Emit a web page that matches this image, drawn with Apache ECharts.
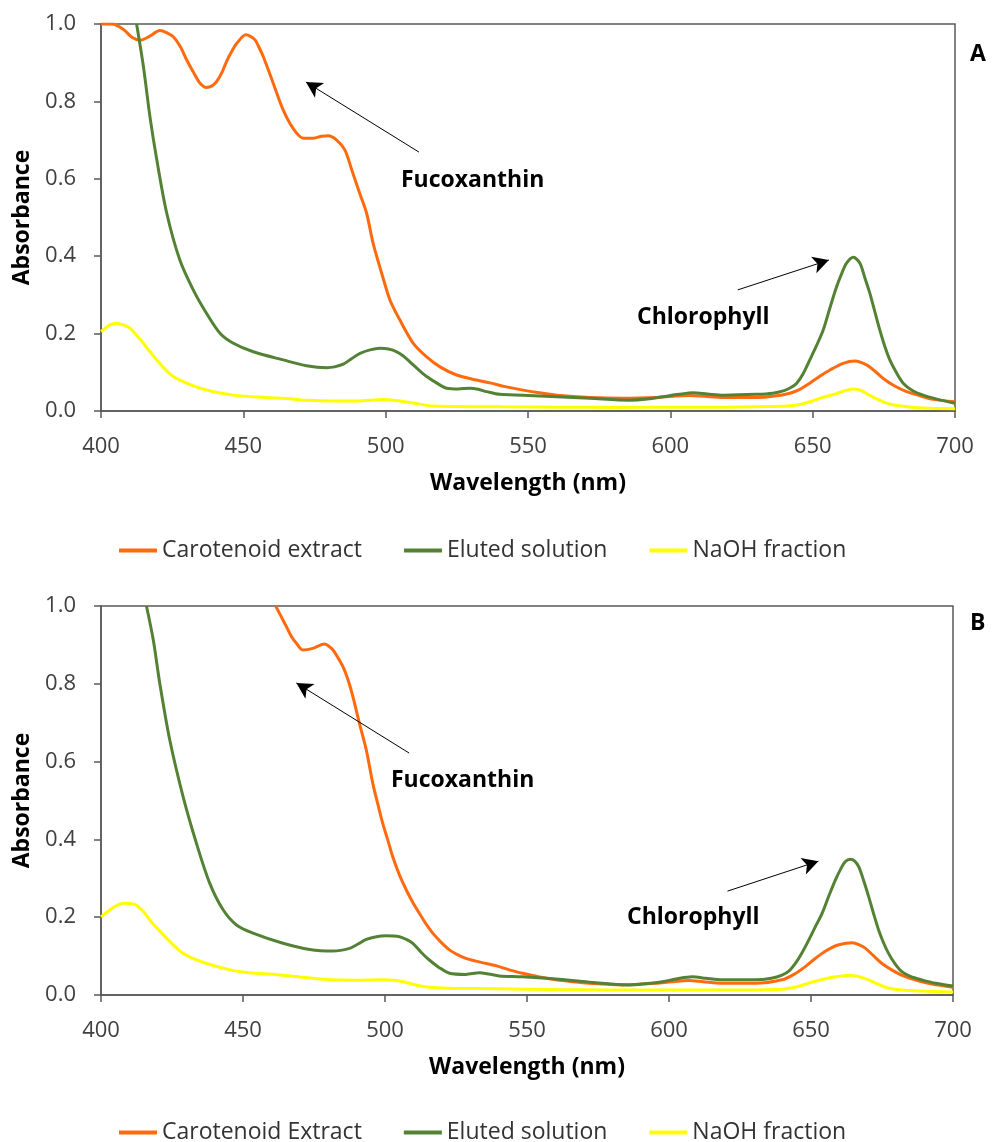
<!DOCTYPE html>
<html><head><meta charset="utf-8">
<script src="https://cdn.jsdelivr.net/npm/echarts@6/dist/echarts.min.js"></script>
<style>html,body{margin:0;padding:0;background:#fff}#c{width:992px;height:1142px}</style>
</head><body><div id="c"></div>
<script>
// ---------- Panel A ----------
const carA_wl = [400,404,408,411,413.7,417,420.7,423,425.4,428,430.1,432.5,434.8,437.1,439,440.6,442.5,444.1,446,447.7,450.9,452.5,454.1,455.5,457,460.5,464,467.5,471.1,474.6,477.5,479.8,482.8,485.7,488.1,490.9,493.3,495.6,498.6,501.5,505,509.7,514.4,519.1,524.9,531.9,537,542,548.3,554,560,571.7,583.5,595.2,606.9,612,618.6,630.3,636,642,645.5,649,652.5,656.1,660.7,664.8,668.9,672,674.8,678.5,683,687.5,692.3,700];
const carA_abs = [1.0,1.0,0.985,0.965,0.958,0.968,0.983,0.978,0.967,0.94,0.907,0.875,0.847,0.836,0.84,0.851,0.875,0.903,0.93,0.95,0.972,0.968,0.959,0.94,0.916,0.847,0.778,0.73,0.705,0.705,0.71,0.711,0.7,0.674,0.623,0.562,0.511,0.433,0.356,0.287,0.235,0.175,0.14,0.114,0.093,0.08,0.072,0.063,0.054,0.047,0.041,0.035,0.033,0.035,0.04,0.038,0.035,0.035,0.038,0.046,0.056,0.072,0.09,0.106,0.123,0.129,0.119,0.102,0.084,0.066,0.05,0.04,0.03,0.024];

const eluA_wl = [412.5,414.9,417.2,419.6,423.1,427.7,432.4,437.1,441.8,446.5,453.5,464,472.2,479.3,482,485.1,488,491,494.5,498,501,503.9,506.2,508.5,511.5,514.4,518,521.4,525.5,529.6,532.5,535.5,540.1,548.3,560,571.7,585.8,592,597.5,603,608,613,618.6,630.3,636,639.7,642.2,644.4,646.7,649,651.3,653.7,656,658.4,660.3,661.9,664.3,666.6,668.3,670.1,671.9,673.6,675.3,677.1,679.5,681.8,685,688.8,694,700];
const eluA_abs = [1.0,0.89,0.76,0.649,0.511,0.39,0.313,0.252,0.201,0.175,0.153,0.132,0.117,0.112,0.114,0.121,0.135,0.149,0.158,0.162,0.16,0.153,0.142,0.127,0.107,0.089,0.072,0.059,0.057,0.059,0.056,0.05,0.043,0.041,0.037,0.033,0.028,0.031,0.037,0.043,0.047,0.044,0.041,0.043,0.046,0.052,0.06,0.072,0.097,0.132,0.168,0.209,0.265,0.321,0.357,0.382,0.397,0.382,0.345,0.304,0.255,0.209,0.168,0.132,0.098,0.072,0.053,0.041,0.03,0.02];

const naohA_wl = [400,403,405.5,408,410.2,412.5,414.9,417.2,419.6,422.5,425.4,430,434.8,440,446.5,455,464,472,481.6,490,499.2,505,510,516.7,540,560,580,600,620,640,645,649,653,658.4,661.5,664.3,667,670.1,673.5,677,683,689,700];
const naohA_abs = [0.205,0.222,0.227,0.222,0.214,0.196,0.175,0.153,0.132,0.108,0.089,0.072,0.059,0.049,0.041,0.036,0.033,0.028,0.026,0.026,0.03,0.026,0.02,0.013,0.011,0.01,0.009,0.01,0.01,0.012,0.016,0.024,0.034,0.045,0.053,0.057,0.053,0.04,0.028,0.018,0.011,0.008,0.006];

// ---------- Panel B ----------
const carB_wl = [461.5,463.5,465.3,467,468.8,471.1,474.6,478.7,480,481.7,483.5,485.2,487,488.7,491,493.4,495.7,497.5,499.2,501,502.7,505,507.5,509.8,512.1,514.5,516.8,519.7,522.7,525.5,528.5,532,535.6,540.2,544,548.4,554,560.2,566,571.9,583.6,595.3,601,607,612,618.7,630.5,639.8,644,648,650.8,653.9,656.8,659.8,664.5,667,669.2,672,675,679,683.2,688,692.6,700];
const carB_abs = [1.0,0.972,0.947,0.922,0.904,0.887,0.891,0.902,0.898,0.887,0.866,0.844,0.81,0.767,0.698,0.63,0.544,0.49,0.441,0.398,0.356,0.31,0.27,0.238,0.21,0.182,0.159,0.136,0.116,0.104,0.094,0.087,0.081,0.073,0.064,0.056,0.047,0.039,0.034,0.03,0.026,0.03,0.034,0.037,0.034,0.03,0.03,0.039,0.053,0.073,0.09,0.107,0.12,0.129,0.134,0.129,0.12,0.101,0.081,0.062,0.047,0.036,0.028,0.02];

const eluB_wl = [416,418.4,420.7,424.2,428.9,433.6,438.3,443,447.7,453.5,464.1,473.5,481.7,487.5,490.5,493.4,497,500.4,505.1,507.5,509.8,512.7,515.6,519,522.7,528.5,533.2,536.5,540.2,548.4,560.2,571.9,585.9,591.5,597.6,603,608.2,613,618.7,630.5,636,639.8,642.3,644.5,646.8,649.2,651.5,653.9,656.3,658.6,660.4,662.1,663.9,665.3,666.8,668.5,670.3,672,673.8,675.5,677.3,679.6,682,685,689,694,700];
const eluB_abs = [1.0,0.913,0.801,0.656,0.51,0.39,0.287,0.219,0.18,0.159,0.133,0.117,0.113,0.12,0.131,0.143,0.15,0.152,0.15,0.143,0.133,0.11,0.09,0.071,0.056,0.053,0.057,0.054,0.049,0.047,0.041,0.033,0.026,0.029,0.034,0.042,0.047,0.043,0.039,0.039,0.043,0.051,0.062,0.081,0.108,0.141,0.175,0.21,0.255,0.296,0.323,0.343,0.349,0.345,0.33,0.295,0.253,0.21,0.167,0.135,0.107,0.08,0.06,0.048,0.039,0.03,0.023];

const naohB_wl = [400,403,405.5,408.4,410.5,412.5,415,417.2,420,423.1,426,428.9,433,437.2,443,448.9,455,464.1,472,481.7,490,499.2,504,508.6,512.5,516.8,525,540.2,560,580,600,620,640,645,649,654,658.6,663.9,667,670.3,673.5,677,683,689,700];
const naohB_abs = [0.201,0.218,0.23,0.236,0.235,0.231,0.214,0.193,0.17,0.146,0.125,0.107,0.092,0.081,0.069,0.06,0.056,0.051,0.045,0.039,0.038,0.039,0.037,0.03,0.023,0.019,0.017,0.016,0.014,0.013,0.013,0.013,0.015,0.021,0.03,0.04,0.047,0.051,0.047,0.039,0.028,0.018,0.012,0.01,0.008];

// ---------- labels & annotations ----------
const xTicks = [400, 450, 500, 550, 600, 650, 700];
const yTicks = [0, 0.2, 0.4, 0.6, 0.8, 1.0];
const namesA = ['Carotenoid extract', 'Eluted solution', 'NaOH fraction'];
const namesB = ['Carotenoid Extract', 'Eluted solution', 'NaOH fraction'];
const arrowsA = [[[511.7, 0.669], [472, 0.850]], [[623.7, 0.313], [655.7, 0.390]]];
const arrowsB = [[[508.5, 0.622], [468.8, 0.802]], [[620.6, 0.267], [652.6, 0.344]]];

const COLORS = ['#FF6A0E', '#548235', '#FFFF00'];
const FONT = 'Open Sans';
const zip = (a, b) => a.map((v, i) => [v, b[i]]);

function xAxisFor(idx) {
  return {
    gridIndex: idx, type: 'value', min: xTicks[0], max: xTicks[xTicks.length - 1], interval: 50,
    name: 'Wavelength (nm)', nameLocation: 'middle', nameGap: 61,
    nameTextStyle: { fontFamily: FONT, fontWeight: 'bold', fontSize: 23, color: '#000' },
    axisLine: { show: true, lineStyle: { color: '#595959', width: 1.5 } },
    axisTick: { show: true, length: 7, lineStyle: { color: '#595959', width: 1.5 } },
    axisLabel: { fontFamily: FONT, fontSize: 22, color: '#404040', margin: 25 },
    splitLine: { show: false }
  };
}
function yAxisFor(idx) {
  return {
    gridIndex: idx, type: 'value', min: yTicks[0], max: yTicks[yTicks.length - 1], interval: 0.2,
    name: 'Absorbance', nameLocation: 'middle', nameGap: 67,
    nameTextStyle: { fontFamily: FONT, fontWeight: 'bold', fontSize: 23, color: '#000' },
    axisLine: { show: true, lineStyle: { color: '#595959', width: 1.5 } },
    axisTick: { show: true, length: 7, lineStyle: { color: '#595959', width: 1.5 } },
    axisLabel: { fontFamily: FONT, fontSize: 22, color: '#404040', margin: 25, formatter: v => v.toFixed(1) },
    splitLine: { show: false }
  };
}
function arrowLines(arr) {
  return {
    silent: true, animation: false, symbol: ['none', 'arrow'], symbolSize: [13, 16],
    label: { show: false },
    lineStyle: { color: '#000', width: 1, type: 'solid' },
    data: arr.map(a => [{ coord: a[0] }, { coord: a[1] }])
  };
}
function lineSeries(name, data, color, idx, extra) {
  return Object.assign({
    type: 'line', name, data, xAxisIndex: idx, yAxisIndex: idx,
    symbol: 'none', smooth: 0.3, clip: true,
    lineStyle: { color, width: 3 }, itemStyle: { color }
  }, extra || {});
}
function legendFor(names, top) {
  return {
    data: names, top, left: 114, icon: 'rect', itemWidth: 38, itemHeight: 4, itemGap: 42,
    textStyle: { fontFamily: FONT, fontSize: 23, color: '#333' }, selectedMode: false
  };
}
function txt(text, x, y, size) {
  return { type: 'text', x, y,
    style: { text, x: 0, y: 0, fontFamily: FONT, fontWeight: 'bold', fontSize: size, fill: '#000',
      align: 'left', verticalAlign: 'middle' } };
}

const chart = echarts.init(document.getElementById('c'), null, { renderer: 'canvas' });
chart.setOption({
  backgroundColor: '#fff',
  animation: false,
  grid: [
    { left: 101, top: 24, width: 854, height: 387, show: true, borderColor: '#595959', borderWidth: 1.5, backgroundColor: '#fff' },
    { left: 101, top: 606, width: 852, height: 389, show: true, borderColor: '#595959', borderWidth: 1.5, backgroundColor: '#fff' }
  ],
  xAxis: [xAxisFor(0), xAxisFor(1)],
  yAxis: [yAxisFor(0), yAxisFor(1)],
  legend: [legendFor(namesA, 534), legendFor(namesB, 1116)],
  series: [
    lineSeries(namesA[0], zip(carA_wl, carA_abs), COLORS[0], 0, { markLine: arrowLines(arrowsA) }),
    lineSeries(namesA[1], zip(eluA_wl, eluA_abs), COLORS[1], 0),
    lineSeries(namesA[2], zip(naohA_wl, naohA_abs), COLORS[2], 0),
    lineSeries(namesB[0], zip(carB_wl, carB_abs), COLORS[0], 1, { markLine: arrowLines(arrowsB) }),
    lineSeries(namesB[1], zip(eluB_wl, eluB_abs), COLORS[1], 1),
    lineSeries(namesB[2], zip(naohB_wl, naohB_abs), COLORS[2], 1)
  ],
  graphic: [
    txt('A', 970, 54, 23),
    txt('B', 970, 623, 23),
    txt('Fucoxanthin', 401, 180, 23),
    txt('Chlorophyll', 637, 317, 23),
    txt('Fucoxanthin', 391, 780, 23),
    txt('Chlorophyll', 627, 917, 23)
  ]
});
</script>
</body></html>
